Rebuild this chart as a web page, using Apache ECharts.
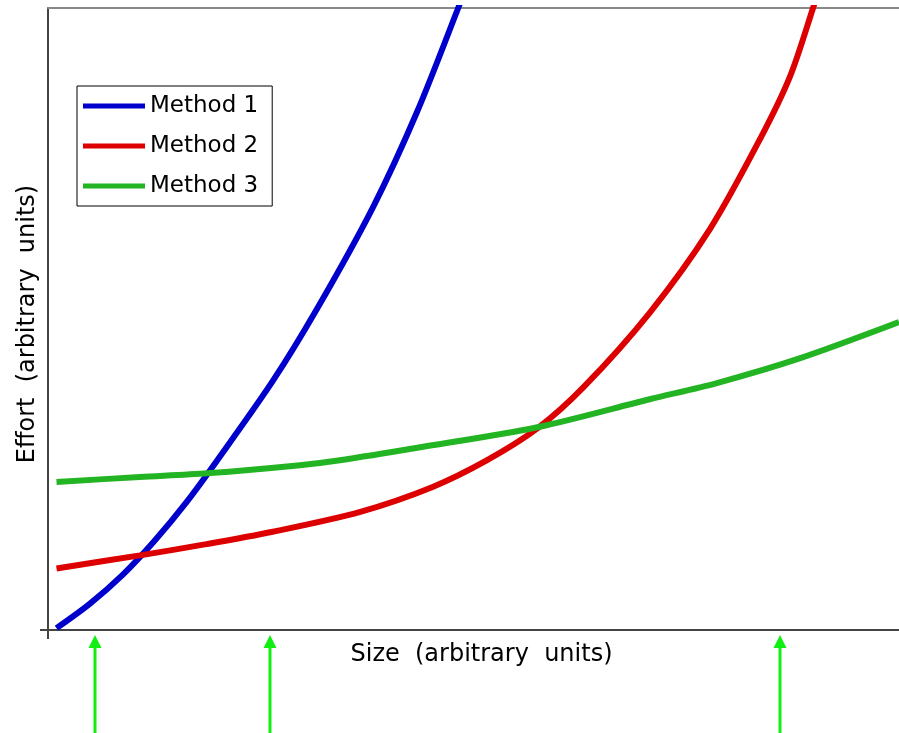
<!DOCTYPE html>
<html>
<head>
<meta charset="utf-8">
<script src="https://cdn.jsdelivr.net/npm/echarts@6/dist/echarts.min.js"></script>
<style>
  html, body { margin: 0; padding: 0; background: #fff; }
  #chart { width: 899px; height: 733px; }
</style>
</head>
<body>
<div id="chart"></div>
<script>
// curve points, as [size, effort] on a 0..100 scale
const method1 = [[1, 0.3], [4.9, 4.2], [8.8, 8.9], [12.5, 14.3], [16.3, 20.6], [20, 27.5], [26.4, 40.0], [31.6, 51.6], [38.2, 68.0], [43.4, 83.4], [48.2, 100], [50, 106.5]];
const method2 = [[1, 9.9], [10.8, 12.0], [18.6, 13.8], [26.4, 15.8], [36.7, 19.0], [45.2, 23.0], [51.6, 27.3], [57.5, 32.4], [62.9, 39.0], [70.7, 51.0], [77.8, 64.5], [83.7, 79.0], [87.2, 89.0], [89.9, 100], [91.5, 107]];
const method3 = [[1, 23.8], [10.8, 24.6], [18.7, 25.2], [29.6, 26.5], [34.3, 27.3], [43.4, 29.3], [57.5, 32.6], [70.7, 37.1], [78.6, 39.7], [88.4, 43.7], [100, 49.5]];
const seriesNames = ['Method 1', 'Method 2', 'Method 3'];
const seriesColors = ['#0000cc', '#dd0000', '#22b422'];
// x positions of the green arrows under the axis
const arrowX = [5.5, 26.1, 86];

const myChart = echarts.init(document.getElementById('chart'));
const font = 'DejaVu Sans';

const option = {
  animation: false,
  grid: { left: 48, right: 0, top: 8, bottom: 103 },
  legend: {
    left: 77,
    top: 86,
    orient: 'vertical',
    icon: 'rect',
    itemWidth: 62,
    itemHeight: 5,
    itemGap: 14,
    padding: [7, 14, 7, 6],
    borderColor: '#000',
    borderWidth: 1,
    backgroundColor: '#fff',
    textStyle: { fontFamily: font, fontSize: 23, color: '#000', lineHeight: 26 },
    data: seriesNames
  },
  xAxis: [{
    type: 'value',
    min: 0,
    max: 100,
    name: 'Size  (arbitrary  units)',
    nameLocation: 'middle',
    nameGap: 13,
    nameTextStyle: { fontFamily: font, fontSize: 24, color: '#000', verticalAlign: 'top', padding: [0, 0, 0, 16] },
    axisLine: { show: true, lineStyle: { color: '#444', width: 2 } },
    axisTick: { show: true, customValues: [0], length: 9, lineStyle: { color: '#444', width: 2 } },
    axisLabel: { show: false },
    splitLine: { show: false }
  }, {
    type: 'value',
    position: 'top',
    min: 0,
    max: 100,
    axisLine: { show: true, lineStyle: { color: '#888', width: 2 } },
    axisTick: { show: false },
    axisLabel: { show: false },
    splitLine: { show: false }
  }],
  yAxis: {
    type: 'value',
    min: 0,
    max: 100,
    name: 'Effort  (arbitrary  units)',
    nameLocation: 'middle',
    nameGap: 8,
    nameTextStyle: { fontFamily: font, fontSize: 24, color: '#000', padding: [0, 10, 0, 0] },
    axisLine: { show: true, lineStyle: { color: '#444', width: 2 } },
    axisTick: { show: true, customValues: [0], length: 8, lineStyle: { color: '#444', width: 2 } },
    axisLabel: { show: false },
    splitLine: { show: false }
  },
  series: [method1, method2, method3].map((d, i) => ({
    name: seriesNames[i],
    type: 'line',
    xAxisIndex: 0,
    data: d,
    smooth: 0.3,
    symbol: 'none',
    clip: true,
    lineStyle: { color: seriesColors[i], width: 6 },
    itemStyle: { color: seriesColors[i] }
  }))
};

myChart.setOption(option);

// green arrows, placed through the x axis scale
const baseY = myChart.convertToPixel({ yAxisIndex: 0 }, 0);
const arrows = arrowX.map(v => {
  const px = Math.round(myChart.convertToPixel({ xAxisIndex: 0 }, v));
  const tip = baseY + 5;
  return {
    type: 'group',
    children: [
      { type: 'line', shape: { x1: px, y1: tip + 10, x2: px, y2: 733 }, style: { stroke: '#11ee11', lineWidth: 3 } },
      { type: 'polygon', shape: { points: [[px, tip], [px - 6.5, tip + 13], [px + 6.5, tip + 13]] }, style: { fill: '#11ee11' } }
    ]
  };
});
myChart.setOption({ graphic: arrows });
</script>
</body>
</html>
